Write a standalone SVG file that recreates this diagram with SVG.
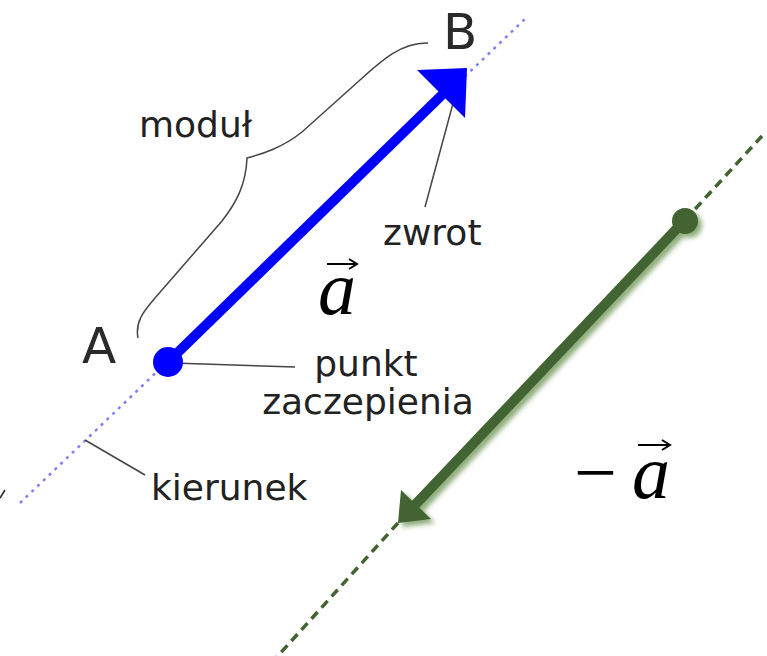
<svg xmlns="http://www.w3.org/2000/svg" width="767" height="656" viewBox="0 0 767 656">
<defs>
<style>
.lbl{font-family:"DejaVu Sans","Liberation Sans",sans-serif;font-size:36px;fill:#222}
.pt{font-family:"DejaVu Sans","Liberation Sans",sans-serif;font-size:50px;fill:#2a2a2a}
.math{font-family:"Liberation Serif","Times New Roman",serif;font-size:76px;font-style:italic;fill:#000}
.lead{stroke:#444;stroke-width:1.5;fill:none}
</style>
<filter id="glow" x="-20%" y="-20%" width="140%" height="140%">
<feGaussianBlur in="SourceAlpha" stdDeviation="2.5" result="b"/>
<feOffset in="b" dx="4" dy="4" result="o"/>
<feFlood flood-color="#5f8a45" flood-opacity="0.7"/>
<feComposite in2="o" operator="in" result="s"/>
<feMerge><feMergeNode in="s"/><feMergeNode in="SourceGraphic"/></feMerge>
</filter>
</defs>
<rect width="767" height="656" fill="#fff"/>
<g id="connectors">
<line x1="20" y1="503" x2="527" y2="17" stroke="#7f7fff" stroke-width="2.5" stroke-dasharray="3 5"/>
<line x1="685" y1="220" x2="762" y2="136" stroke="#436330" stroke-width="3.5" stroke-dasharray="9 6"/>
<line x1="398" y1="523" x2="276" y2="658" stroke="#436330" stroke-width="3.5" stroke-dasharray="9 6"/>
<path class="lead" d="M138,338 C135,322 143,312 155,298 L222,221 C236,203 246,185 247,158 C262,154 282,148 302,132 L360,80 C382,60 402,42 428,43"/>
<line class="lead" x1="425" y1="207" x2="458" y2="85"/>
<line class="lead" x1="173" y1="363" x2="295" y2="367"/>
<line class="lead" x1="85" y1="440" x2="145" y2="475"/>
<line x1="0" y1="498" x2="5" y2="490" stroke="#222" stroke-width="1.5"/>
</g>
<g id="vector-a">
<line x1="168" y1="362" x2="445" y2="92" stroke="#0000ff" stroke-width="10"/>
<polygon points="467,68 417,70 465,118" fill="#0000ff"/>
<circle cx="168" cy="362" r="15" fill="#0000ff"/>
</g>
<g id="vector-neg-a" filter="url(#glow)">
<line x1="685" y1="220" x2="414" y2="506" stroke="#436330" stroke-width="10"/>
<polygon points="398,523 401,490 431,519" fill="#436330"/>
<circle cx="685" cy="221" r="13" fill="#436330"/>
</g>
<g id="label-A"><text class="pt" x="82" y="363">A</text></g>
<g id="label-B"><text class="pt" x="443" y="49">B</text></g>
<g id="label-modul"><text class="lbl" x="139" y="137">moduł</text></g>
<g id="label-zwrot"><text class="lbl" x="383" y="245">zwrot</text></g>
<g id="label-punkt"><text class="lbl" text-anchor="middle"><tspan x="366" y="376">punkt</tspan><tspan x="368" y="414">zaczepienia</tspan></text></g>
<g id="label-kierunek"><text class="lbl" x="151" y="500">kierunek</text></g>
<g id="label-a">
<text class="math" x="318" y="314">a</text>
<path d="M327,264 H356 M349,259 L357,264 L349,269" stroke="#000" stroke-width="2" fill="none"/>
</g>
<g id="label-neg-a">
<text class="math" x="574" y="498" style="font-style:normal">−</text>
<text class="math" x="632" y="498">a</text>
<path d="M638,445 H669 M662,440 L670,445 L662,450" stroke="#000" stroke-width="2" fill="none"/>
</g>
</svg>
